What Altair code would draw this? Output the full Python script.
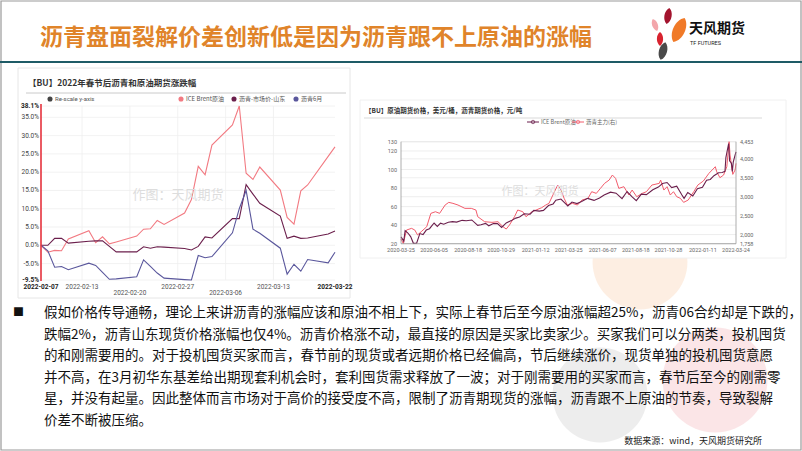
import altair as alt
import pandas as pd

W, H = 802, 451
CJK = "Noto Sans CJK SC"

# ---------------- texts ----------------
title_text = "沥青盘面裂解价差创新低是因为沥青跟不上原油的涨幅"
left_title = "【BU】2022年春节后沥青和原油期货涨跌幅"
right_title = "【BU】原油期货价格，美元/桶，沥青期货价格，元/吨"
watermark = "作图：天风期货"
source_text = "数据来源：wind，天风期货研究所"
body_lines = [
    "假如价格传导通畅，理论上来讲沥青的涨幅应该和原油不相上下，实际上春节后至今原油涨幅超25%，沥青06合约却是下跌的，",
    "跌幅2%，沥青山东现货价格涨幅也仅4%。沥青价格涨不动，最直接的原因是买家比卖家少。买家我们可以分两类，投机囤货",
    "的和刚需要用的。对于投机囤货买家而言，春节前的现货或者远期价格已经偏高，节后继续涨价，现货单独的投机囤货意愿",
    "并不高，在3月初华东基差给出期现套利机会时，套利囤货需求释放了一波；对于刚需要用的买家而言，春节后至今的刚需零",
    "星，并没有起量。因此整体而言市场对于高价的接受度不高，限制了沥青期现货的涨幅，沥青跟不上原油的节奏，导致裂解",
    "价差不断被压缩。",
]

# ---------------- left chart data (% change since 2022-02-07) ----------------
left_dates = ["2022-02-07", "2022-02-08", "2022-02-09", "2022-02-10", "2022-02-11",
              "2022-02-14", "2022-02-15", "2022-02-16", "2022-02-17", "2022-02-18",
              "2022-02-21", "2022-02-22", "2022-02-23", "2022-02-24", "2022-02-25",
              "2022-02-28", "2022-03-01", "2022-03-02", "2022-03-03", "2022-03-04",
              "2022-03-07", "2022-03-08", "2022-03-09", "2022-03-10", "2022-03-11",
              "2022-03-14", "2022-03-15", "2022-03-16", "2022-03-17", "2022-03-18",
              "2022-03-21", "2022-03-22"]
left_brent = [0.0, -1.9, -1.4, -1.5, 1.7, 4.0, 0.7, 2.3, 0.4, 0.9,
              2.5, 4.4, 4.5, 6.8, 5.7, 8.8, 12.5, 21.6, 19.3, 27.4,
              32.9, 38.1, 19.7, 18.0, 21.4, 15.1, 7.6, 5.8, 14.9, 16.5,
              24.3, 26.9]
left_sd = [0.0, 0.0, 1.9, 1.9, 0.6, 1.1, 1.2, 1.2, -0.3, -1.8,
           -1.8, -0.4, -0.8, -0.4, -0.5, -0.9, -1.3, -0.3, 2.3, 2.0,
           7.3, 7.3, 16.6, 14.0, 11.5, 8.0, 1.9, 2.5, 1.9, 2.0,
           3.1, 3.9]
left_bu06 = [0.0, -1.5, -6.0, -5.8, -6.7, -4.9, -5.5, -7.4, -9.3, -9.2,
             -8.6, -4.0, -5.8, -7.6, -9.0, -9.4, -9.5, -2.8, -3.4, -3.1,
             3.4, 10.0, 15.0, 4.4, 3.3, -0.8, -7.9, -5.2, -7.1, -3.9,
             -4.8, -1.9]
left_series = ["ICE Brent原油", "沥青-市场价-山东", "沥青6月"]
left_colors = ["#F27A82", "#6B1F4C", "#5A579C"]
left_y_ticks = [-9.5, -5.0, 0.0, 5.0, 10.0, 15.0, 20.0, 25.0, 30.0, 35.0, 38.1]
left_y_labels = ["-9.5%", "-5.0%", "0.0%", "5.0%", "10.0%", "15.0%", "20.0%",
                 "25.0%", "30.0%", "35.0%", "38.1%"]
left_x_ticks = ["2022-02-07", "2022-02-13", "2022-02-20", "2022-02-27",
                "2022-03-06", "2022-03-13", "2022-03-22"]

# ---------------- right chart data ----------------
brent_dates = ["2020-03-25", "2020-03-31", "2020-04-03", "2020-04-09", "2020-04-15",
               "2020-04-21", "2020-04-28", "2020-05-05", "2020-05-12", "2020-05-19",
               "2020-05-26", "2020-06-05", "2020-06-12", "2020-06-19", "2020-06-26",
               "2020-07-06", "2020-07-15", "2020-07-24", "2020-08-05", "2020-08-14",
               "2020-08-26", "2020-09-08", "2020-09-15", "2020-09-25", "2020-10-02",
               "2020-10-12", "2020-10-21", "2020-10-30", "2020-11-09", "2020-11-20",
               "2020-11-30", "2020-12-08", "2020-12-18", "2020-12-31", "2021-01-08",
               "2021-01-20", "2021-01-29", "2021-02-09", "2021-02-19", "2021-02-25",
               "2021-03-08", "2021-03-18", "2021-03-23", "2021-04-01", "2021-04-12",
               "2021-04-22", "2021-05-05", "2021-05-19", "2021-05-31", "2021-06-10",
               "2021-06-24", "2021-07-06", "2021-07-19", "2021-07-30", "2021-08-10",
               "2021-08-19", "2021-08-30", "2021-09-10", "2021-09-24", "2021-10-06",
               "2021-10-15", "2021-10-25", "2021-11-04", "2021-11-15", "2021-11-26",
               "2021-12-01", "2021-12-09", "2021-12-20", "2021-12-30", "2022-01-10",
               "2022-01-19", "2022-01-27", "2022-02-04", "2022-02-14", "2022-02-22",
               "2022-02-28", "2022-03-02", "2022-03-04", "2022-03-08", "2022-03-10",
               "2022-03-14", "2022-03-16", "2022-03-18", "2022-03-22", "2022-03-24"]
brent_px = [27.4, 22.8, 34.1, 31.5, 27.7, 20.4, 20.5, 30.9, 29.9, 34.7,
            36.2, 42.3, 38.7, 42.2, 41.0, 43.1, 43.8, 43.3, 45.2, 44.8,
            45.6, 39.8, 40.5, 41.9, 39.3, 41.7, 41.7, 37.5, 42.4, 44.9,
            47.6, 48.8, 52.3, 51.8, 55.9, 55.1, 55.9, 61.1, 62.9, 66.9,
            68.2, 63.3, 60.8, 64.9, 63.3, 65.4, 68.9, 66.7, 69.3, 72.5,
            75.6, 74.5, 68.6, 76.3, 70.6, 66.5, 73.4, 72.9, 78.1, 81.1,
            84.9, 86.0, 80.5, 82.1, 72.7, 68.9, 75.2, 71.5, 79.3, 80.9,
            88.4, 89.3, 93.3, 96.5, 96.8, 98.0, 112.9, 118.1, 127.9, 109.3,
            106.9, 98.0, 107.9, 115.5, 119.0]
bu_dates = ["2020-03-25", "2020-03-30", "2020-04-06", "2020-04-17", "2020-04-24",
            "2020-04-30", "2020-05-08", "2020-05-20", "2020-05-29", "2020-06-08",
            "2020-06-17", "2020-06-29", "2020-07-07", "2020-07-16", "2020-07-27",
            "2020-08-11", "2020-08-25", "2020-09-04", "2020-09-08", "2020-09-23",
            "2020-10-09", "2020-10-22", "2020-11-02", "2020-11-09", "2020-11-16",
            "2020-11-27", "2020-12-04", "2020-12-15", "2020-12-22", "2021-01-04",
            "2021-01-13", "2021-01-25", "2021-02-03", "2021-02-10", "2021-02-22",
            "2021-03-01", "2021-03-08", "2021-03-15", "2021-03-22", "2021-04-02",
            "2021-04-13", "2021-04-23", "2021-05-06", "2021-05-14", "2021-05-24",
            "2021-06-02", "2021-06-11", "2021-06-21", "2021-06-28", "2021-07-05",
            "2021-07-12", "2021-07-23", "2021-08-03", "2021-08-10", "2021-08-20",
            "2021-09-01", "2021-09-10", "2021-09-22", "2021-10-08", "2021-10-11",
            "2021-10-18", "2021-10-25", "2021-11-01", "2021-11-08", "2021-11-15",
            "2021-11-23", "2021-11-30", "2021-12-10", "2021-12-22", "2021-12-31",
            "2022-01-12", "2022-01-24", "2022-02-07", "2022-02-10", "2022-02-17",
            "2022-02-25", "2022-03-04", "2022-03-09", "2022-03-11", "2022-03-17",
            "2022-03-22", "2022-03-24"]
bu_px = [1881, 1765, 2119, 2163, 2119, 1990, 2075, 2207, 2560, 2603,
         2560, 2780, 2850, 2824, 2780, 2692, 2692, 2648, 2471, 2339,
         2322, 2339, 2207, 2145, 2251, 2471, 2648, 2603, 2471, 2603,
         2648, 2709, 2780, 2824, 3132, 3308, 3176, 2956, 2780, 2824,
         2780, 2912, 2956, 3132, 3088, 3220, 3352, 3440, 3572, 3484,
         3220, 3264, 3044, 3176, 3000, 3088, 3132, 3308, 3352, 3440,
         3176, 3264, 3044, 3132, 3000, 2956, 2850, 2912, 3132, 3308,
         3414, 3616, 3792, 3660, 3502, 3572, 3792, 4453, 4101, 3590,
         3704, 3880]
right_series = ["ICE Brent原油", "沥青主力(右)"]
right_colors = ["#6B1F4C", "#F25C6C"]
right_yl_ticks = [20, 40, 60, 80, 100, 120, 130]
right_yl_labels = ["20", "40", "60", "80", "100", "120", "130"]
right_yr_ticks = [1758, 2000, 2500, 3000, 3500, 4000, 4453]
right_yr_labels = ["1,758", "2,000", "2,500", "3,000", "3,500", "4,000", "4,453"]
right_x_ticks = ["2020-03-25", "2020-06-05", "2020-08-18", "2020-10-29", "2021-01-12",
                 "2021-03-25", "2021-06-07", "2021-08-18", "2021-10-28", "2022-01-11",
                 "2022-03-24"]

# ---------------- helpers ----------------
one = pd.DataFrame({"k": [0]})


def utc(s):
    y, m, d = (int(p) for p in s.split("-"))
    return alt.DateTime(year=y, month=m, date=d, utc=True)


def txt(x, y, s, size=10, color="#000000", weight="normal", align="left",
        baseline="middle", font=CJK, opacity=1.0):
    return alt.Chart(one).mark_text(
        fontSize=size, color=color, fontWeight=weight, align=align,
        baseline=baseline, font=font, opacity=opacity
    ).encode(x=alt.value(x), y=alt.value(y), text=alt.value(s))


def box(x0, y0, x1, y1, fill="white", stroke=None, sw=1.0, opacity=1.0, radius=0):
    kw = dict(fill=fill, opacity=opacity, cornerRadius=radius)
    if stroke:
        kw.update(stroke=stroke, strokeWidth=sw)
    return alt.Chart(one).mark_rect(**kw).encode(
        x=alt.value(x0), x2=alt.value(x1), y=alt.value(y0), y2=alt.value(y1))


def hline(x0, x1, y, color="#cccccc", sw=1.0):
    return alt.Chart(one).mark_rule(color=color, strokeWidth=sw).encode(
        x=alt.value(x0), x2=alt.value(x1), y=alt.value(y), y2=alt.value(y))


def vline(x, y0, y1, color="#cccccc", sw=1.0):
    return alt.Chart(one).mark_rule(color=color, strokeWidth=sw).encode(
        x=alt.value(x), x2=alt.value(x), y=alt.value(y0), y2=alt.value(y1))


def dot(x, y, color, size=30, shape="circle", angle=0, opacity=1.0):
    return alt.Chart(one).mark_point(
        filled=True, color=color, size=size, shape=shape, angle=angle, opacity=opacity
    ).encode(x=alt.value(x), y=alt.value(y))


layers = []

# ---------------- slide background ----------------
layers.append(box(0, 0, W, H, fill="white"))
# soft decorative blobs bottom-right
layers.append(dot(640, 262, "#FBE3CF", size=9000, opacity=0.6))
layers.append(dot(600, 395, "#E6E6E6", size=9000, opacity=0.7))
layers.append(dot(715, 380, "#FADADD", size=11000, opacity=0.7))
layers.append(box(1, 1, W - 1, H - 1, fill="transparent", stroke="#9a9a9a", sw=1.2))

# header
layers.append(txt(40, 38, title_text, size=23, color="#E0842A", weight="bold"))
LEAF = "M0,-1 C0.6,-0.6 0.6,0.6 0,1 C-0.6,0.6 -0.6,-0.6 0,-1 Z"
layers.append(dot(668, 16, "#A3142E", size=260, shape=LEAF, angle=10))
layers.append(dot(679, 30, "#F07A28", size=700, shape=LEAF, angle=25))
layers.append(dot(655, 25, "#F3A6AB", size=160, shape=LEAF, angle=340))
layers.append(dot(660, 39, "#D8232F", size=190, shape=LEAF, angle=0))
layers.append(dot(663, 51, "#4A4A4A", size=330, shape=LEAF, angle=15))
layers.append(txt(689, 29, "天风期货", size=14, color="#111111", weight="bold"))
layers.append(txt(690, 43, "TF FUTURES", size=5.5, color="#222222", font="Roboto"))
layers.append(hline(0, W, 62, color="#1E5B66", sw=2))

# ---------------- left chart ----------------
layers.append(box(18, 68, 350, 298, fill="white", stroke="#e6e6e6"))
layers.append(txt(28, 83, left_title, size=8.5, color="#333333", weight="bold"))
layers.append(hline(26, 346, 93, color="#bdbdbd", sw=0.8))

lx = alt.Scale(domain=[utc(left_dates[0]), utc(left_dates[-1])], range=[41, 335])
ly = alt.Scale(domain=[-9.5, 38.1], range=[280, 106], nice=False, zero=False)

lyt = pd.DataFrame({"v": left_y_ticks, "lab": left_y_labels})
lxt = pd.DataFrame({"d": left_x_ticks, "lab": left_x_ticks,
                    "row": [0, 0, 1, 0, 1, 0, 0],
                    "end": [1, 0, 0, 0, 0, 0, 1]})

layers.append(alt.Chart(lyt).mark_rule(color="#efefef", strokeWidth=0.8).encode(
    y=alt.Y("v:Q", scale=ly, axis=None), x=alt.value(41), x2=alt.value(335)))
layers.append(alt.Chart(lxt).transform_filter("datum.end == 0").mark_rule(
    color="#efefef", strokeWidth=0.8).encode(
    x=alt.X("d:T", scale=lx, axis=None), y=alt.value(106), y2=alt.value(280)))

ldf = pd.DataFrame({
    "date": left_dates * 3,
    "series": [s for s in left_series for _ in left_dates],
    "value": left_brent + left_sd + left_bu06,
})
layers.append(alt.Chart(ldf).mark_line(strokeWidth=1.1).encode(
    x=alt.X("date:T", scale=lx, axis=None),
    y=alt.Y("value:Q", scale=ly, axis=None),
    color=alt.Color("series:N", scale=alt.Scale(domain=left_series, range=left_colors), legend=None),
))
layers.append(vline(41, 104, 281, color="#E5323D", sw=1.6))

layers.append(alt.Chart(lyt).transform_filter("datum.v > -9 && datum.v < 38").mark_text(
    align="right", baseline="middle", fontSize=6.5, color="#444444", font="Roboto").encode(
    y=alt.Y("v:Q", scale=ly, axis=None), x=alt.value(39), text="lab:N"))
layers.append(alt.Chart(lyt).transform_filter("datum.v < -9 || datum.v > 38").mark_text(
    align="right", baseline="middle", fontSize=6.5, color="#222222", font="Roboto",
    fontWeight="bold").encode(
    y=alt.Y("v:Q", scale=ly, axis=None), x=alt.value(39), text="lab:N"))
for r, yy in ((0, 287), (1, 293)):
    for e, wt, col in ((0, "normal", "#555555"), (1, "bold", "#222222")):
        layers.append(alt.Chart(lxt).transform_filter(
            f"datum.row == {r} && datum.end == {e}").mark_text(
            align="center", baseline="middle", fontSize=6.5, color=col, font="Roboto",
            fontWeight=wt).encode(
            x=alt.X("d:T", scale=lx, axis=None), y=alt.value(yy), text="lab:N"))

# left legend
layers.append(dot(50, 99, "#444444", size=26))
layers.append(txt(55, 99, "Re-scale y-axis", size=6, color="#555555", font="Roboto"))
for cx, nm, colr in ((181, left_series[0], left_colors[0]),
                     (234, left_series[1], left_colors[1]),
                     (296, left_series[2], left_colors[2])):
    layers.append(dot(cx, 99, colr, size=26))
    layers.append(txt(cx + 5, 99, nm, size=6, color="#555555"))
layers.append(txt(178, 195, watermark, size=13, color="#dddddd", align="center"))

# ---------------- right chart ----------------
layers.append(box(360, 100, 786, 258, fill="white", stroke="#f0f0f0"))
layers.append(txt(365, 111, right_title, size=6.5, color="#333333", weight="bold"))
layers.append(hline(364, 762, 118, color="#cfcfcf", sw=0.8))

rx = alt.Scale(domain=[utc(right_x_ticks[0]), utc(right_x_ticks[-1])], range=[401, 736])
ryl = alt.Scale(domain=[20, 130], range=[243.7, 141.7], nice=False, zero=False)
ryr = alt.Scale(domain=[1758, 4453], range=[243.7, 141.7], nice=False, zero=False)

rylt = pd.DataFrame({"v": right_yl_ticks, "lab": right_yl_labels})
ryrt = pd.DataFrame({"v": right_yr_ticks, "lab": right_yr_labels})
rxt = pd.DataFrame({"d": right_x_ticks, "lab": right_x_ticks})

layers.append(alt.Chart(rylt).mark_rule(color="#e6e6e6", strokeWidth=0.7).encode(
    y=alt.Y("v:Q", scale=ryl, axis=None), x=alt.value(401), x2=alt.value(736)))
layers.append(alt.Chart(ryrt).mark_rule(color="#e6e6e6", strokeWidth=0.7).encode(
    y=alt.Y("v:Q", scale=ryr, axis=None), x=alt.value(401), x2=alt.value(736)))

bdf = pd.DataFrame({"date": bu_dates, "value": bu_px})
layers.append(alt.Chart(bdf).mark_line(strokeWidth=1.0, color=right_colors[1]).encode(
    x=alt.X("date:T", scale=rx, axis=None), y=alt.Y("value:Q", scale=ryr, axis=None)))
odf = pd.DataFrame({"date": brent_dates, "value": brent_px})
layers.append(alt.Chart(odf).mark_line(strokeWidth=1.1, color=right_colors[0]).encode(
    x=alt.X("date:T", scale=rx, axis=None), y=alt.Y("value:Q", scale=ryl, axis=None)))

layers.append(vline(401, 141.7, 243.7, color="#9a9a9a", sw=0.8))
layers.append(vline(736, 141.7, 243.7, color="#9a9a9a", sw=0.8))
layers.append(hline(401, 736, 243.7, color="#9a9a9a", sw=0.8))
layers.append(alt.Chart(rylt).mark_text(align="right", baseline="middle", fontSize=5.5,
                                        color="#666666", font="Roboto").encode(
    y=alt.Y("v:Q", scale=ryl, axis=None), x=alt.value(397), text="lab:N"))
layers.append(alt.Chart(ryrt).mark_text(align="left", baseline="middle", fontSize=5.5,
                                        color="#666666", font="Roboto").encode(
    y=alt.Y("v:Q", scale=ryr, axis=None), x=alt.value(740), text="lab:N"))
layers.append(alt.Chart(rxt).mark_text(align="center", baseline="middle", fontSize=5.5,
                                       color="#666666", font="Roboto").encode(
    x=alt.X("d:T", scale=rx, axis=None), y=alt.value(250), text="lab:N"))

# right legend
layers.append(hline(527, 539, 122, color=right_colors[0], sw=1))
layers.append(alt.Chart(one).mark_point(color=right_colors[0], size=12, strokeWidth=1).encode(
    x=alt.value(533), y=alt.value(122)))
layers.append(txt(541, 122, right_series[0], size=5.5, color="#666666"))
layers.append(hline(572, 584, 122, color=right_colors[1], sw=1))
layers.append(alt.Chart(one).mark_point(color=right_colors[1], size=12, strokeWidth=1).encode(
    x=alt.value(578), y=alt.value(122)))
layers.append(txt(586, 122, right_series[1], size=5.5, color="#666666"))
layers.append(txt(540, 192, watermark, size=11, color="#dddddd", align="center"))

# ---------------- body text ----------------
layers.append(txt(13, 313, "■", size=11, color="#111111"))
for i, line in enumerate(body_lines):
    layers.append(txt(44, 313 + i * 21.5, line, size=13.5, color="#111111"))
layers.append(txt(762, 441, source_text, size=9, color="#222222", align="right"))

chart = alt.layer(*layers).resolve_scale(
    x="independent", y="independent", color="independent"
).properties(
    width=W, height=H, padding=0, autosize=alt.AutoSizeParams(type="none"),
    background="white",
).configure_view(stroke=None)

chart.save("out.html", embed_options={"renderer": "svg", "actions": False})
